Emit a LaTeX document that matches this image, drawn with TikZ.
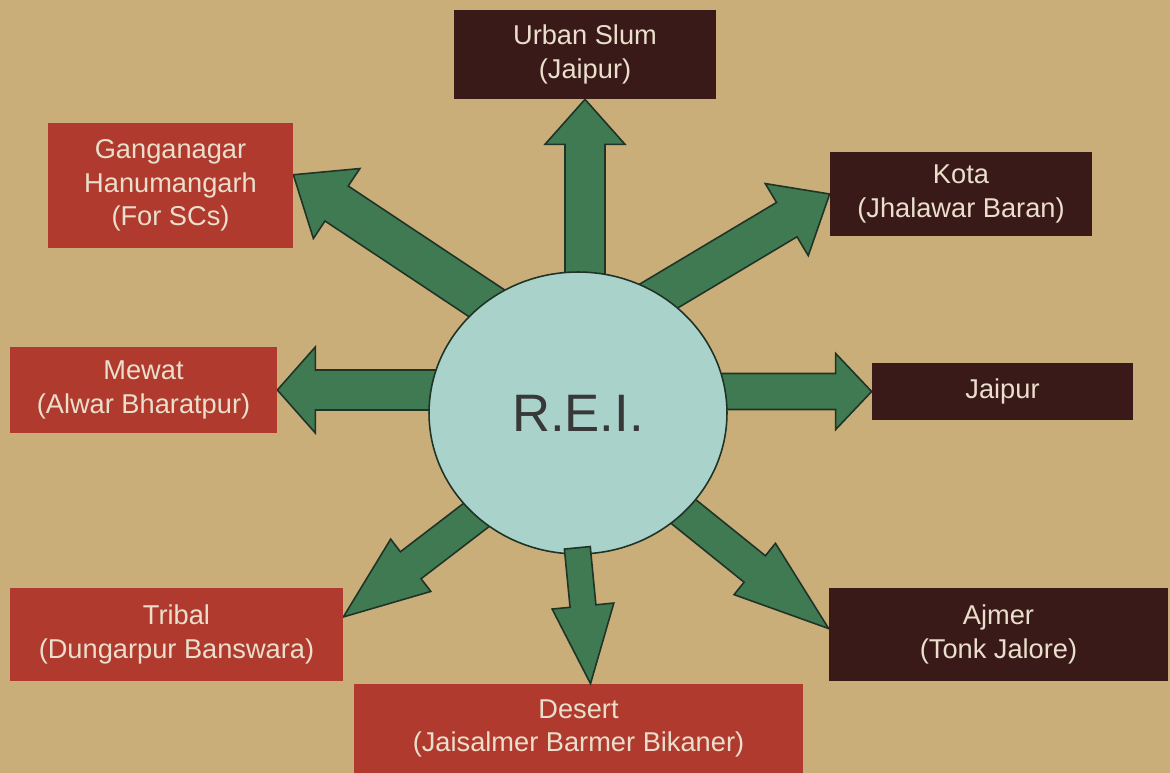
\documentclass[tikz,border=0pt]{standalone}
\usepackage{fontspec}
\setmainfont{Liberation Sans}
\usetikzlibrary{calc,shapes.geometric}
\definecolor{bgtan}{HTML}{C9AE7A}
\definecolor{boxred}{HTML}{B03A2E}
\definecolor{boxdark}{HTML}{3A1A18}
\definecolor{argreen}{HTML}{3F7A52}
\definecolor{arline}{HTML}{1F3326}
\definecolor{reiblue}{HTML}{A9D2CB}
\definecolor{txtlight}{HTML}{EADFCC}
\definecolor{reitext}{HTML}{383838}
\pgfdeclarelayer{back}
\pgfdeclarelayer{arr}
\pgfsetlayers{back,arr,main}
% #1 tail, #2 tip, #3 shaft half width, #4 head half width, #5 head length, #6 tail extension
\newcommand\blockarrow[6]{%
  \coordinate (hb) at ($(#2)!#5!(#1)$);
  \coordinate (tb) at ($(#1)!-#6!(#2)$);
  \filldraw[arrowshape] ($(tb)!#3!90:(#2)$) -- ($(hb)!#3!90:(#2)$) -- ($(hb)!#4!90:(#2)$) -- (#2)
    -- ($(hb)!#4!-90:(#2)$) -- ($(hb)!#3!-90:(#2)$) -- ($(tb)!#3!-90:(#2)$) -- cycle;
}
\begin{document}
\begin{tikzpicture}[x=0.02cm,y=-0.02cm,
  region/.style={inner sep=0pt, align=center, text=txtlight, font=\fontsize{15.5}{19}\selectfont},
  redbox/.style={region, fill=boxred},
  darkbox/.style={region, fill=boxdark},
  arrowshape/.style={fill=argreen, draw=arline, line width=0.9pt, line join=miter}]
\begin{pgfonlayer}{back}
\fill[bgtan] (0,0) rectangle (1170,773);
\end{pgfonlayer}
\useasboundingbox (0,0) rectangle (1170,773);

\node[darkbox, minimum width=5.24cm, minimum height=1.78cm] (urban) at (585,54.5) {Urban Slum\\(Jaipur)};
\node[redbox, minimum width=4.9cm, minimum height=2.5cm] (gang) at (170.5,185.5) {Ganganagar\\Hanumangarh\\(For SCs)};
\node[darkbox, minimum width=5.24cm, minimum height=1.68cm] (kota) at (961,194) {Kota\\(Jhalawar Baran)};
\node[redbox, minimum width=5.34cm, minimum height=1.72cm] (mewat) at (143.5,390) {Mewat\\(Alwar Bharatpur)};
\node[darkbox, minimum width=5.22cm, minimum height=1.14cm] (jaipur) at (1002.5,391.5) {Jaipur};
\node[redbox, minimum width=6.66cm, minimum height=1.86cm] (tribal) at (176.5,634.5) {Tribal\\(Dungarpur Banswara)};
\node[darkbox, minimum width=6.78cm, minimum height=1.86cm] (ajmer) at (998.5,634.5) {Ajmer\\(Tonk Jalore)};
\node[redbox, minimum width=8.98cm, minimum height=1.78cm] (desert) at (578.5,728.5) {Desert\\(Jaisalmer Barmer Bikaner)};

\node[ellipse, fill=reiblue, draw=arline, line width=0.9pt, inner sep=0pt,
      minimum width=5.96cm, minimum height=5.64cm, text=reitext,
      font=\fontsize{30}{36}\selectfont] (rei) at (578,413) {R.E.I.};

\coordinate (tU) at (urban.south |- rei.north);
\coordinate (tM) at (mewat.east -| rei.west);
\coordinate (tJ) at (jaipur.west -| rei.east);

\begin{pgfonlayer}{arr}
\blockarrow{tU}{urban.south}{0.4cm}{0.8cm}{0.9cm}{0.4cm}
\blockarrow{rei.130}{gang.5}{0.42cm}{0.84cm}{1.04cm}{0.4cm}
\blockarrow{rei.55}{kota.west}{0.4cm}{0.84cm}{1.0cm}{0.4cm}
\blockarrow{tM}{mewat.east}{0.4cm}{0.86cm}{0.76cm}{0.4cm}
\blockarrow{tJ}{jaipur.west}{0.36cm}{0.76cm}{0.72cm}{0.4cm}
\blockarrow{rei.225}{tribal.6}{0.34cm}{0.66cm}{1.7cm}{0.4cm}
\blockarrow{rei.317}{ajmer.178}{0.34cm}{0.66cm}{1.9cm}{0.4cm}
\end{pgfonlayer}
\blockarrow{rei.south}{desert.75}{0.26cm}{0.62cm}{1.56cm}{0.14cm}
\end{tikzpicture}
\end{document}
